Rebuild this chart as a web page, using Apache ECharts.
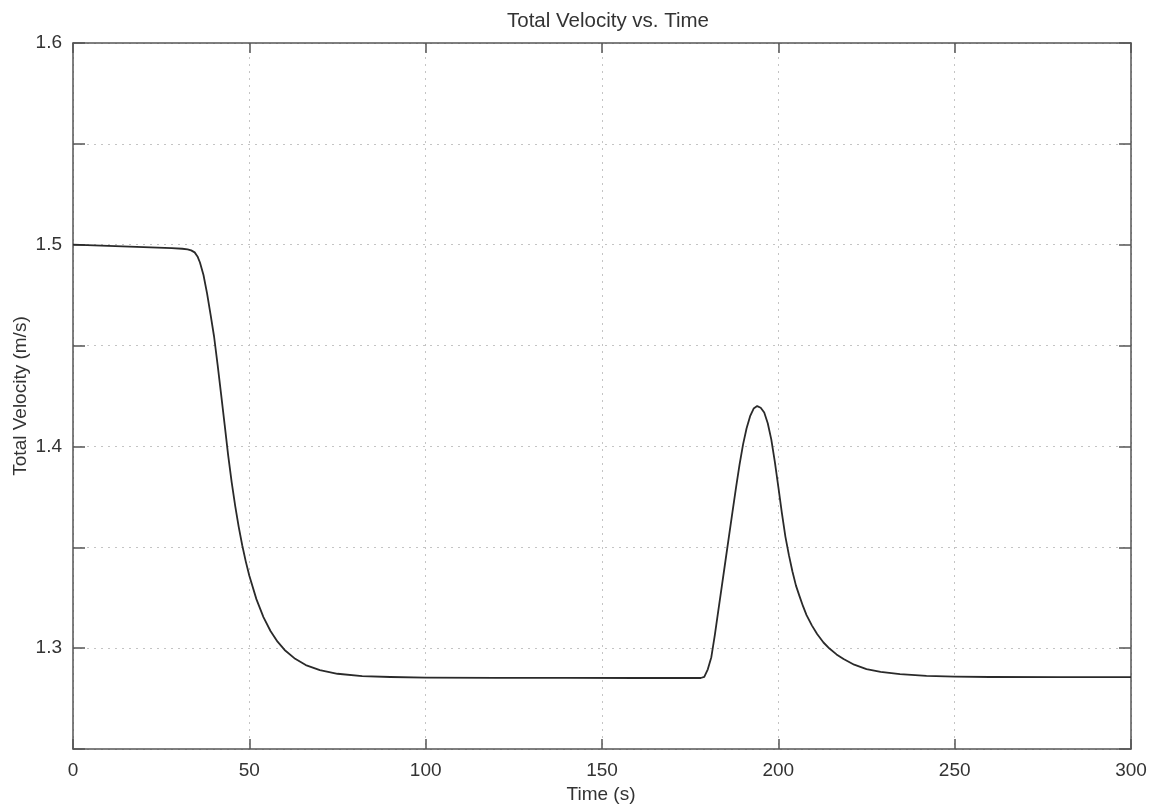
<!DOCTYPE html>
<html>
<head>
<meta charset="utf-8">
<script src="https://cdn.jsdelivr.net/npm/echarts@6/dist/echarts.min.js"></script>
<style>
html,body{margin:0;padding:0;background:#fff;}
#chart{width:1157px;height:807px;}
</style>
</head>
<body>
<div id="chart"></div>
<script>
const titleText = 'Total Velocity vs. Time';
const xName = 'Time (s)';
const yName = 'Total Velocity (m/s)';
const xTicks = [0, 50, 100, 150, 200, 250, 300];
const yTickLabels = [1.3, 1.4, 1.5, 1.6];

const time = [0, 10, 20, 28, 31, 32.5, 33.5, 34.5, 35.3, 36, 37, 38, 39, 40, 41, 42, 43, 44, 45, 46, 47, 48, 49, 50, 52, 54, 56, 58, 60, 63, 66, 70, 75, 82, 90, 100, 120, 140, 160, 170, 178,
  179, 180, 181, 182, 183, 184, 185, 186, 187, 188, 189, 190, 191, 192, 193, 194, 195, 196, 197, 198, 199, 200, 201, 202, 203, 204, 205, 206, 207, 208, 209.5, 211, 212.8, 214.5, 216.5, 218.5, 221.5, 225, 229, 234.5, 242, 250, 260, 280, 300];
const velocity = [1.5, 1.4994, 1.4988, 1.4983, 1.4980, 1.4977, 1.4972, 1.4962, 1.4942, 1.4912, 1.4850, 1.4760, 1.4655, 1.4545, 1.4405, 1.4258, 1.4108, 1.3956, 1.3822, 1.3704, 1.3600, 1.3509, 1.3429, 1.3359, 1.3243, 1.3154, 1.3085, 1.3032, 1.2991, 1.2947, 1.2916, 1.2891, 1.2873, 1.2861, 1.2857, 1.2854, 1.2853, 1.2853, 1.2852, 1.2852, 1.2852,
  1.2858, 1.2895, 1.2955, 1.3066, 1.3188, 1.3310, 1.3432, 1.3554, 1.3676, 1.3796, 1.3910, 1.4010, 1.4090, 1.4150, 1.4188, 1.4200, 1.4192, 1.4168, 1.4115, 1.4035, 1.3925, 1.3800, 1.3670, 1.3553, 1.3461, 1.3380, 1.3310, 1.3258, 1.3208, 1.3164, 1.3113, 1.3070, 1.3028, 1.2998, 1.2969, 1.2946, 1.2918, 1.2896, 1.2882, 1.2871, 1.2863, 1.2859, 1.2857, 1.2856, 1.2856];

const seriesData = time.map((t, i) => [t, velocity[i]]);

const chart = echarts.init(document.getElementById('chart'), null, {renderer: 'canvas'});
const font = 'Liberation Sans, Arial, sans-serif';
const axisColor = '#555';
const gridLine = {show: true, lineStyle: {color: '#c4c4c4', type: [2, 5], width: 1}};

chart.setOption({
  backgroundColor: '#fff',
  animation: false,
  title: {
    text: titleText,
    left: 603, top: 6, textAlign: 'center',
    textStyle: {fontFamily: font, fontSize: 20.5, fontWeight: 'normal', color: '#333'}
  },
  grid: {left: 73, right: 26, top: 43, bottom: 58, containLabel: false, outerBoundsMode: 'none'},
  xAxis: [{
    type: 'value', min: xTicks[0], max: xTicks[xTicks.length - 1], interval: 50,
    name: xName, nameLocation: 'middle', nameGap: 36, nameMoveOverlap: false,
    nameTextStyle: {fontFamily: font, fontSize: 19, color: '#333', padding: [0, 2, 0, 0]},
    axisLine: {show: true, onZero: false, lineStyle: {color: axisColor, width: 1.5}},
    axisTick: {show: true, inside: true, length: 10, lineStyle: {color: axisColor, width: 1.5}},
    axisLabel: {fontFamily: font, fontSize: 19, color: '#333', margin: 12},
    splitLine: gridLine
  }, {
    type: 'value', position: 'top', min: xTicks[0], max: xTicks[xTicks.length - 1], interval: 50,
    axisLine: {show: true, onZero: false, lineStyle: {color: axisColor, width: 1.5}},
    axisTick: {show: true, inside: true, length: 10, lineStyle: {color: axisColor, width: 1.5}},
    axisLabel: {show: false}, splitLine: {show: false}
  }],
  yAxis: [{
    type: 'value', min: 1.25, max: 1.6, interval: 0.05,
    name: yName, nameLocation: 'middle', nameGap: 43, nameRotate: 90, nameMoveOverlap: false,
    nameTextStyle: {fontFamily: font, fontSize: 19, color: '#333'},
    axisLine: {show: true, onZero: false, lineStyle: {color: axisColor, width: 1.5}},
    axisTick: {show: true, inside: true, length: 12, lineStyle: {color: axisColor, width: 1.5}},
    axisLabel: {
      fontFamily: font, fontSize: 19, color: '#333', margin: 11,
      formatter: function (v) {
        for (const l of yTickLabels) { if (Math.abs(v - l) < 1e-6) return l.toFixed(1); }
        return '';
      }
    },
    splitLine: gridLine
  }, {
    type: 'value', position: 'right', min: 1.25, max: 1.6, interval: 0.05,
    axisLine: {show: true, onZero: false, lineStyle: {color: axisColor, width: 1.5}},
    axisTick: {show: true, inside: true, length: 12, lineStyle: {color: axisColor, width: 1.5}},
    axisLabel: {show: false}, splitLine: {show: false}
  }],
  series: [{
    type: 'line', xAxisIndex: 0, yAxisIndex: 0,
    data: seriesData, showSymbol: false, smooth: false,
    lineStyle: {color: '#2a2a2a', width: 1.8, join: 'round'}
  }]
});
</script>
</body>
</html>
